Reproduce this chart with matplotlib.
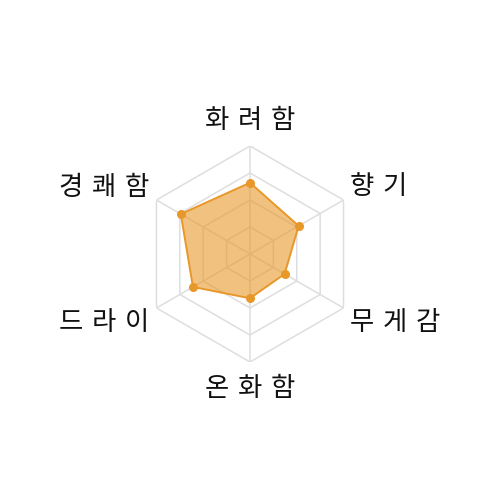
import matplotlib
matplotlib.use("Agg")
import matplotlib.pyplot as plt
import numpy as np

plt.rcParams['font.family'] = ['Noto Sans CJK KR', 'DejaVu Sans']

# 축 이름 (위에서부터 시계방향)
labels = ["화려함", "향기", "무게감", "온화함", "드라이", "경쾌함"]
values = [66, 52, 37, 41, 61, 74]
r_max = 100
ring_levels = [25, 50, 75, 100]

line_color = "#e8982a"
grid_color = "#dedede"

N = len(labels)
angles = np.linspace(0, 2 * np.pi, N, endpoint=False)

fig = plt.figure(figsize=(5, 5), dpi=100)
ax = fig.add_axes([0.284, 0.276, 0.432, 0.432], polar=True)
ax.set_theta_offset(np.pi / 2)
ax.set_theta_direction(-1)
ax.set_ylim(0, r_max)
ax.set_xticks([])
ax.set_yticks([])
ax.grid(False)
ax.spines['polar'].set_visible(False)

# 육각형 격자
closed = np.append(angles, angles[0])
for lv in ring_levels:
    ax.plot(closed, [lv] * (N + 1), color=grid_color, lw=1.1, zorder=1)
for a in angles:
    ax.plot([a, a], [0, r_max], color=grid_color, lw=1.1, zorder=1)

# 데이터
vals = values + values[:1]
ax.fill(closed, vals, color=line_color, alpha=0.6, lw=0, zorder=2)
ax.plot(closed, vals, color=line_color, lw=1.4, zorder=3)
ax.plot(angles, values, 'o', color=line_color, ms=5.5, zorder=4)

# 라벨 (글자 간격 넓게)
px = 0.72  # 픽셀 -> 포인트
for a, lab in zip(angles, labels):
    s, c = np.sin(a), np.cos(a)
    if abs(s) < 0.01:
        ha = 'center'
        dx, dy = 0, 26 if c > 0 else -26
    else:
        ha = 'left' if s > 0 else 'right'
        dx = 6 if s > 0 else -7
        dy = 13 if c > 0 else -14
    ax.annotate("\u2004".join(lab), xy=(a, r_max), xytext=(dx * px, dy * px),
                textcoords='offset points', ha=ha, va='center',
                fontsize=19, fontweight='light', color='#111111',
                annotation_clip=False)

fig.savefig("out.png", dpi=100)
